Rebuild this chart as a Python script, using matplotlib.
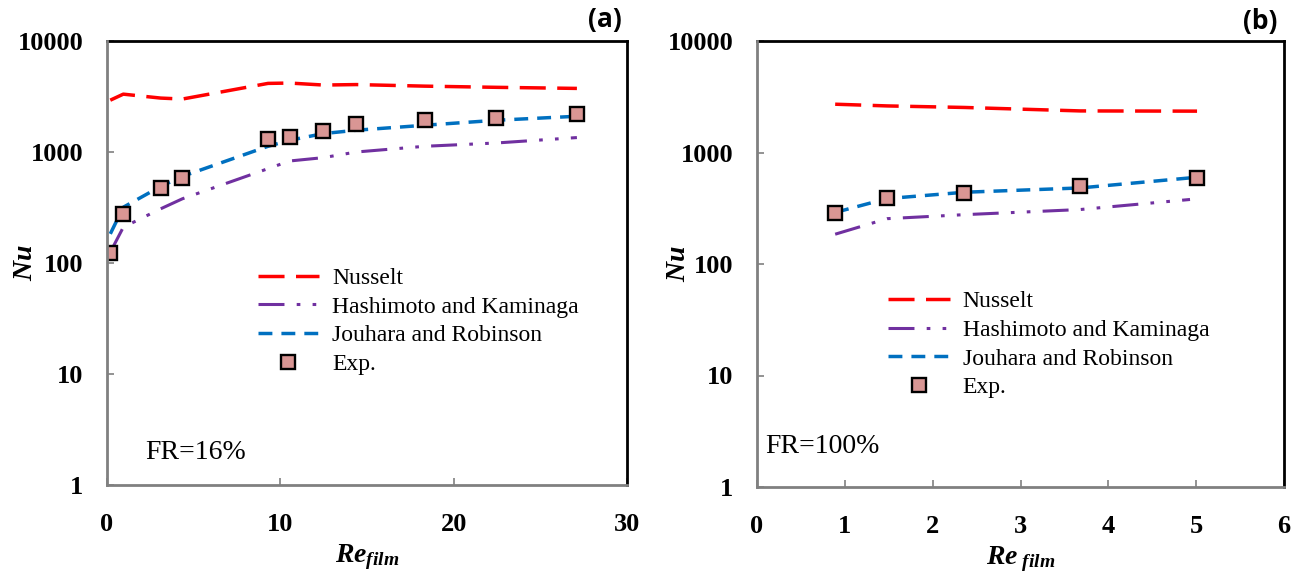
import matplotlib
matplotlib.use("Agg")
import matplotlib.pyplot as plt
from matplotlib.ticker import NullLocator

plt.rcParams["font.family"] = "Liberation Serif"
plt.rcParams["mathtext.fontset"] = "custom"
plt.rcParams["mathtext.it"] = "Liberation Serif:italic:bold"
plt.rcParams["mathtext.rm"] = "Liberation Serif:bold"
plt.rcParams["mathtext.bf"] = "Liberation Serif:bold"

# ---- panel (a): FR = 16 % ----
re_a = [0.19, 0.94, 3.10, 4.35, 9.29, 10.54, 12.49, 14.38, 18.34, 22.47, 27.11]
nusselt_a = [2930, 3320, 3060, 3000, 4150, 4180, 4010, 4050, 3920, 3825, 3740]
hashimoto_a = [125, 210, 308, 379, 708, 830, 890, 1000, 1126, 1206, 1349]
jouhara_a = [183, 318, 490, 603, 1126, 1275, 1466, 1571, 1742, 1932, 2099]
exp_a = [122, 278, 476, 582, 1311, 1358, 1548, 1791, 1932, 2004, 2178]

# ---- panel (b): FR = 100 % ----
re_b = [0.89, 1.48, 2.36, 3.68, 5.01]
nusselt_b = [2711, 2617, 2535, 2360, 2349]
re_b_hk = [0.89, 1.48, 2.36, 3.68, 4.93]
hashimoto_b = [185, 255, 277, 308, 379]
jouhara_b = [290, 386, 440, 481, 600]
exp_b = [287, 394, 437, 501, 588]

y_ticks = [1, 10, 100, 1000, 10000]
y_tick_labels = ["1", "10", "100", "1000", "10000"]
x_ticks_a = [0, 10, 20, 30]
x_ticks_b = [0, 1, 2, 3, 4, 5, 6]

labels = ["Nusselt", "Hashimoto and Kaminaga", "Jouhara and Robinson", "Exp."]

RED = "#FF0000"
PURPLE = "#7030A0"
BLUE = "#0070C0"
MARK_FACE = "#D99694"
GREY = "#808080"

fig = plt.figure(figsize=(13.02, 5.74), dpi=100)
ax_a = fig.add_axes([107 / 1302, 1 - 485 / 574, 520 / 1302, 444 / 574])
ax_b = fig.add_axes([757 / 1302, 1 - 487 / 574, 527 / 1302, 446 / 574])


def draw(ax, x, nu, x_hk, hk, jr, ex, xmax, xticks, fr_text, fr_pos,
         leg_anchor, xlabel, ylabel_x):
    ax.plot(x, nu, color=RED, lw=2.5, dashes=(7.5, 3.3), label=labels[0])
    ax.plot(x_hk, hk, color=PURPLE, lw=2.2,
            dashes=(8.5, 4.0, 1.2, 4.0, 1.2, 4.0), label=labels[1])
    ax.plot(x, jr, color=BLUE, lw=2.5, dashes=(4.0, 2.6), label=labels[2])
    ax.plot(x, ex, ls="none", marker="s", ms=10.5, mfc=MARK_FACE,
            mec="black", mew=1.7, label=labels[3], zorder=5)

    ax.set_yscale("log")
    ax.set_ylim(1, 10000)
    ax.set_xlim(0, xmax)
    ax.set_yticks(y_ticks)
    ax.set_yticklabels(y_tick_labels, fontsize=19, fontweight="bold")
    ax.set_xticks(xticks)
    ax.set_xticklabels([str(t) for t in xticks], fontsize=19,
                       fontweight="bold")
    ax.yaxis.set_minor_locator(NullLocator())
    ax.tick_params(axis="y", direction="in", length=5, width=1.2,
                   color=GREY, pad=17)
    ax.tick_params(axis="x", direction="in", length=5, width=1.2,
                   color=GREY, pad=20)

    for side in ("top", "right"):
        ax.spines[side].set_color("black")
        ax.spines[side].set_linewidth(2.0)
    for side in ("left", "bottom"):
        ax.spines[side].set_color(GREY)
        ax.spines[side].set_linewidth(2.0)
        ax.spines[side].set_zorder(6)

    ax.set_ylabel("$Nu$", fontsize=20)
    ax.yaxis.set_label_coords(ylabel_x, 0.5)
    ax.set_xlabel(xlabel, fontsize=20, labelpad=5)

    ax.text(fr_pos[0], fr_pos[1], fr_text, transform=ax.transAxes,
            fontsize=20, ha="left", va="center")

    ax.legend(loc="upper left", bbox_to_anchor=leg_anchor, frameon=False,
              fontsize=17, handlelength=2.6, handletextpad=0.55,
              labelspacing=0.3, borderpad=0, borderaxespad=0, numpoints=1)


draw(ax_a, re_a, nusselt_a, re_a, hashimoto_a, jouhara_a, exp_a, 30,
     x_ticks_a, "FR=16%", (0.073, 0.074), (0.29, 0.49),
     "$Re_{film}$", -0.132)
draw(ax_b, re_b, nusselt_b, re_b_hk, hashimoto_b, jouhara_b, exp_b, 6,
     x_ticks_b, "FR=100%", (0.015, 0.09), (0.249, 0.44),
     "$Re_{\\ film}$", -0.126)

fig.text(622 / 1302, 1 - 20 / 574, "(a)", fontsize=19, fontweight="bold",
         family="Open Sans", ha="right", va="center")
fig.text(1277 / 1302, 1 - 22 / 574, "(b)", fontsize=19, fontweight="bold",
         family="Open Sans", ha="right", va="center")

fig.savefig("out.png", dpi=100, facecolor="white")
